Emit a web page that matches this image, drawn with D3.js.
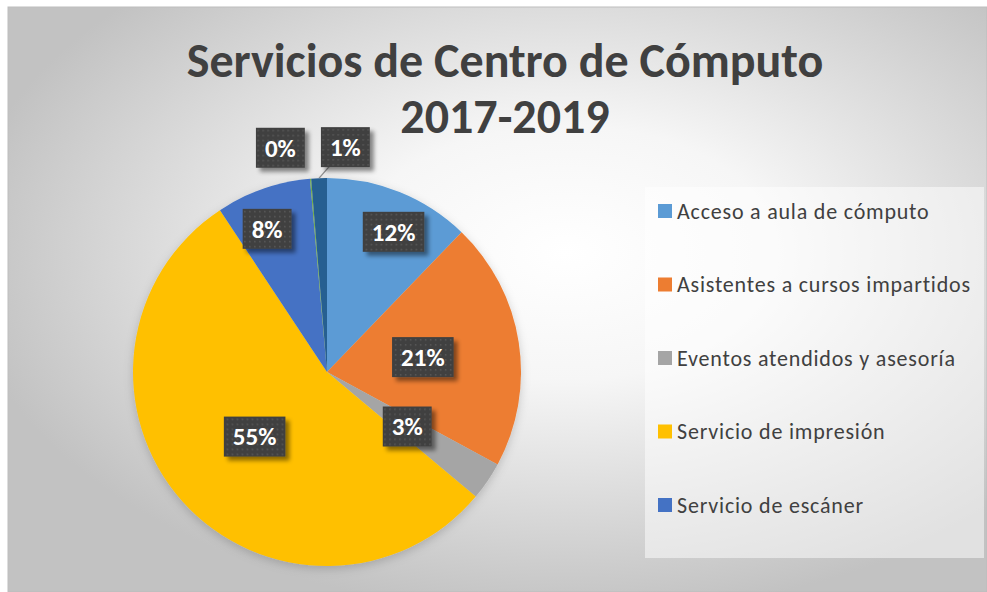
<!DOCTYPE html>
<html>
<head>
<meta charset="utf-8">
<script src="https://cdn.jsdelivr.net/npm/d3@7"></script>
<style>
  body { margin: 0; background: #fff; }
  svg { display: block; }
  text { font-family: Carlito, Lato, "Open Sans", sans-serif; }
</style>
</head>
<body>
<div id="chart"></div>
<script>
// datos del gráfico
const categories = [
  'Acceso a aula de cómputo',
  'Asistentes a cursos impartidos',
  'Eventos atendidos y asesoría',
  'Servicio de impresión',
  'Servicio de escáner',
  'Serie 6',
  'Serie 7'
];
const values = [12.2, 20.7, 3.2, 54.6, 7.9, 0.1, 1.3];
const colors = ['#5B9BD5', '#ED7D31', '#A5A5A5', '#FFC000', '#4472C4', '#70AD47', '#255E91'];
const titleLines = ['Servicios de Centro de Cómputo', '2017-2019'];
const legendItems = categories.slice(0, 5); // la leyenda solo muestra 5

const W = 987, H = 592;
const svg = d3.select('#chart').append('svg')
  .attr('width', W)
  .attr('height', H);

const defs = svg.append('defs');

// fondo con degradado radial
const grad = defs.append('radialGradient')
  .attr('id', 'bg')
  .attr('cx', 0.57).attr('cy', 0.42).attr('r', 0.62);
grad.append('stop').attr('offset', '0%').attr('stop-color', '#ffffff');
grad.append('stop').attr('offset', '35%').attr('stop-color', '#f6f6f6');
grad.append('stop').attr('offset', '100%').attr('stop-color', '#c2c2c2');

// patrón de puntos para las etiquetas
const pat = defs.append('pattern')
  .attr('id', 'dots')
  .attr('width', 5).attr('height', 5)
  .attr('patternUnits', 'userSpaceOnUse');
pat.append('rect').attr('width', 5).attr('height', 5).attr('fill', '#404040');
pat.append('rect').attr('x', 2).attr('y', 2).attr('width', 1.5).attr('height', 1.5).attr('fill', '#5a5a5a');

const shadow = defs.append('filter').attr('id', 'shadow')
  .attr('x', '-20%').attr('y', '-20%').attr('width', '150%').attr('height', '150%');
shadow.append('feDropShadow')
  .attr('dx', 4).attr('dy', 4).attr('stdDeviation', 2)
  .attr('flood-color', '#000').attr('flood-opacity', 0.45);

const pieShadow = defs.append('filter').attr('id', 'pieShadow')
  .attr('x', '-20%').attr('y', '-20%').attr('width', '140%').attr('height', '140%');
pieShadow.append('feDropShadow')
  .attr('dx', 0).attr('dy', 3).attr('stdDeviation', 5)
  .attr('flood-color', '#000').attr('flood-opacity', 0.18);

// área del gráfico
svg.append('rect')
  .attr('x', 8).attr('y', 7)
  .attr('width', W - 8).attr('height', H - 7)
  .attr('fill', 'url(#bg)')
  .attr('stroke', '#bdbdbd')
  .attr('stroke-width', 1);

// título
const title = svg.append('text')
  .attr('text-anchor', 'middle')
  .attr('fill', '#404040')
  .attr('font-weight', 'bold')
  .attr('font-size', 48);
titleLines.forEach((t, i) => {
  title.append('tspan')
    .attr('x', 505)
    .attr('y', 77 + i * 56)
    .text(t);
});

// pastel
const cx = 327, cy = 372, radius = 194;
const pie = d3.pie().sort(null).value(d => d);
const arcs = pie(values);
const total = d3.sum(values);
const arc = d3.arc().innerRadius(0).outerRadius(radius);

const g = svg.append('g').attr('transform', `translate(${cx},${cy})`);

g.append('g')
  .attr('filter', 'url(#pieShadow)')
  .selectAll('path')
  .data(arcs)
  .join('path')
  .attr('d', arc)
  .attr('fill', (d, i) => colors[i]);

// etiquetas de datos (aprox. "mejor ajuste")
const fmt = d3.format('.0%');
const labels = arcs.map((d, i) => {
  const pct = d.value / total;
  const mid = (d.startAngle + d.endAngle) / 2;
  let r, a = mid, outside = false;
  if (pct < 0.02) { r = radius * 1.16; outside = true; }
  else if (Math.cos(mid) > 0.7) {
    // rebanadas de arriba: etiqueta hacia el borde, lejos del eje vertical
    r = radius * 0.8;
    a = mid + 0.06 * Math.sign(Math.sin(mid));
  }
  else r = radius * 0.5;
  return {
    i, pct, mid, outside,
    text: fmt(pct),
    x: r * Math.sin(a),
    y: -r * Math.cos(a)
  };
});

// separar etiquetas exteriores que se traslapan
const outer = labels.filter(l => l.outside).sort((a, b) => a.x - b.x);
if (outer.length > 1) {
  const step = 65;
  const meanX = d3.mean(outer, l => l.x);
  outer.forEach((l, k) => {
    l.x = meanX + (k - (outer.length - 1) / 2) * step;
  });
}

// líneas guía
labels.filter(l => l.outside && Math.round(l.pct * 100) > 0).forEach(l => {
  const px = radius * Math.sin(l.mid), py = -radius * Math.cos(l.mid);
  g.append('line')
    .attr('x1', l.x - 14).attr('y1', l.y + 17)
    .attr('x2', px).attr('y2', py)
    .attr('stroke', '#8c8c8c')
    .attr('stroke-width', 1.3);
});

const lab = g.selectAll('g.lab')
  .data(labels)
  .join('g')
  .attr('class', 'lab')
  .attr('transform', d => `translate(${d.x},${d.y})`);

lab.append('text')
  .attr('text-anchor', 'middle')
  .attr('dy', '0.35em')
  .attr('fill', '#fff')
  .attr('font-weight', 'bold')
  .attr('font-size', 25)
  .text(d => d.text);

lab.each(function() {
  const sel = d3.select(this);
  const bb = sel.select('text').node().getBBox();
  sel.insert('rect', 'text')
    .attr('x', bb.x - 9)
    .attr('y', -20)
    .attr('width', bb.width + 18)
    .attr('height', 40)
    .attr('fill', 'url(#dots)')
    .attr('filter', 'url(#shadow)');
});

// leyenda
const legend = svg.append('g');
legend.append('rect')
  .attr('x', 645).attr('y', 187)
  .attr('width', 339).attr('height', 371)
  .attr('fill', '#ffffff')
  .attr('fill-opacity', 0.5);

const ly = d3.scalePoint()
  .domain(legendItems)
  .range([211, 505]);

const item = legend.selectAll('g.item')
  .data(legendItems)
  .join('g')
  .attr('class', 'item')
  .attr('transform', d => `translate(658,${ly(d)})`);

item.append('rect')
  .attr('x', 0).attr('y', -7)
  .attr('width', 14).attr('height', 14)
  .attr('fill', (d, i) => colors[i]);

item.append('text')
  .attr('x', 19)
  .attr('dy', '0.35em')
  .attr('fill', '#404040')
  .attr('font-size', 22)
  .attr('letter-spacing', 0.8)
  .text(d => d);
</script>
</body>
</html>
